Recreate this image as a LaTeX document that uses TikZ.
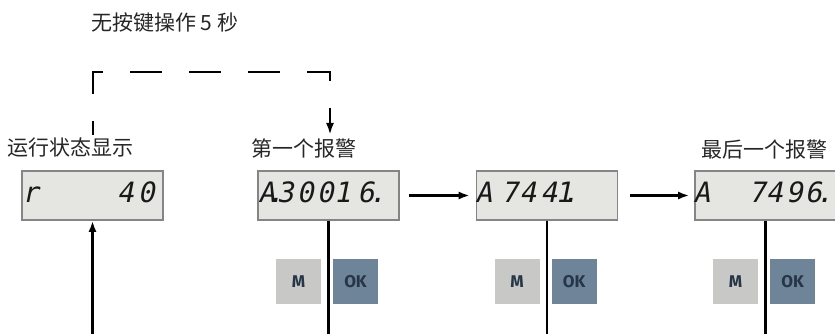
\documentclass[tikz,border=0pt]{standalone}
\usepackage{fontspec}
\newfontfamily\cjk{Noto Sans CJK SC}
\newfontfamily\lcdfont{DejaVu Sans Mono}[FakeSlant=0.2]
\newfontfamily\keyfont{Fira Sans}
\usetikzlibrary{arrows.meta}
\definecolor{lcdfill}{HTML}{E5E6E2}
\definecolor{lcdframe}{HTML}{858585}
\definecolor{mgray}{HTML}{C8C9C7}
\definecolor{okblue}{HTML}{6E8499}
\definecolor{keytext}{HTML}{263648}
\begin{document}
\begin{tikzpicture}[x=1pt, y=-1pt,
    lbl/.style={font=\cjk\fontsize{21}{25}\selectfont, text=black!85, anchor=west, inner sep=0pt},
    lcdbox/.style={draw=lcdframe, line width=1.6pt, fill=lcdfill, minimum width=141pt, minimum height=49pt, inner sep=0pt},
    lcd/.style={font=\lcdfont\fontsize{28}{28}\selectfont, text=black!90, anchor=base, inner sep=0pt},
    keybtn/.style={minimum size=45pt, inner sep=0pt, font=\keyfont\bfseries\fontsize{17}{17}\selectfont, text=keytext},
    mkey/.style={keybtn, fill=mgray},
    okkey/.style={keybtn, fill=okblue},
    arr/.style={line width=2.2pt, -{Latex[length=11pt,width=8pt]}},
    wire/.style={line width=2.2pt},
    dashline/.style={line width=2.8pt, dash pattern=on 32pt off 27pt, dash phase=18pt, -{Latex[length=12pt,width=8pt]}}]
    \useasboundingbox (0,0) rectangle (835,334);
    % labels
    \node[lbl] (title) at (91,23) {无按键操作 5 秒};
    \node[lbl] (lrun) at (7,148) {运行状态显示};
    \node[lbl] (lfirst) at (251,148) {第一个报警};
    \node[lbl] (llast) at (701,150) {最后一个报警};
    % displays
    \node[lcdbox] (d1) at (92.5,195.5) {};
    \node[lcdbox] (d2) at (328.5,195.5) {};
    \node[lcdbox] (d3) at (547,195.5) {};
    \node[lcdbox] (d4) at (765.5,195.5) {};
    \foreach \x/\c [count=\i] in {9/r, 104/4, 125/0}
        \node[lcd] (d1c\i) at ([shift={(\x,-18)}]d1.south west) {\c};
    \foreach \x/\c [count=\i] in {9.5/A, 18/., 28/3, 48/0, 68/0, 85/1, 108.5/6, 120/.}
        \node[lcd] (d2c\i) at ([shift={(\x,-18)}]d2.south west) {\c};
    \foreach \x/\c [count=\i] in {8/A, 34/7, 52/4, 73/4, 88/1, 94.5/.}
        \node[lcd] (d3c\i) at ([shift={(\x,-18)}]d3.south west) {\c};
    \foreach \x/\c [count=\i] in {7.5/A, 63/7, 80/4, 100/9, 119/6, 130/.}
        \node[lcd] (d4c\i) at ([shift={(\x,-18)}]d4.south west) {\c};
    % keys
    \foreach \d in {d2,d3,d4} {
        \node[mkey] (m\d) at ([shift={(-30,61)}]\d.south) {M};
        \node[okkey] (ok\d) at ([shift={(27,61)}]\d.south) {OK};
    }
    % connectors
    \coordinate (bot) at (0,336);
    \coordinate (ds) at (93,135);
    \coordinate (dtop) at (330,72);
    \coordinate (de) at (330,135);
    \draw[dashline] (ds) |- (dtop) -- (de);
    \draw[arr] (d1.south |- bot) -- (d1.south);
    \foreach \d in {d2,d3,d4}
        \draw[wire] (\d.south) -- (\d.south |- bot);
    \draw[arr, shorten <=9pt, shorten >=6pt] (d2.east) -- (d3.west);
    \draw[arr, shorten <=12pt, shorten >=5pt] (d3.east) -- (d4.west);
\end{tikzpicture}
\end{document}
